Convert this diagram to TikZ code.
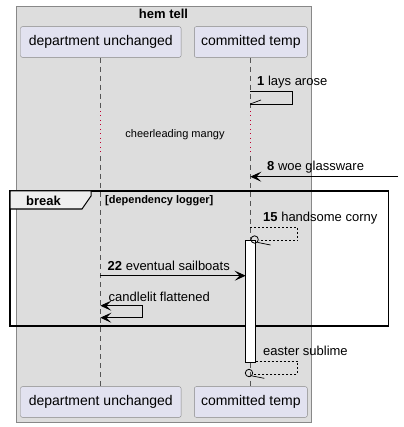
\documentclass[tikz,border=0pt]{standalone}
\usepackage{fontspec}
\setmainfont{Liberation Sans}
\usetikzlibrary{arrows.meta}
\definecolor{boxfill}{HTML}{DDDDDD}
\definecolor{boxline}{HTML}{888888}
\definecolor{partfill}{HTML}{E2E2F0}
\definecolor{partline}{HTML}{888888}
\definecolor{lifecol}{HTML}{555555}
\definecolor{delaycol}{HTML}{C00030}
\definecolor{tabfill}{HTML}{EEEEEE}
\tikzset{
  part/.style={draw=partline, fill=partfill, rounded corners=2pt, minimum height=30.7pt, inner sep=0pt, font=\fontsize{14}{16}\selectfont},
  life/.style={draw=lifecol, line width=0.6pt, dash pattern=on 5pt off 4pt},
  delayline/.style={draw=delaycol, line width=1pt, dash pattern=on 1pt off 3.5pt},
  msg/.style={draw=black, line width=0.9pt},
  ret/.style={draw=black, line width=0.7pt, dash pattern=on 2pt off 2pt},
  headtip/.tip={Stealth[length=11pt,width=10pt,inset=5pt]},
  tip/.style={-headtip},
  lbl/.style={anchor=west, inner sep=0pt, font=\fontsize{13}{15}\selectfont},
  small/.style={inner sep=0pt, font=\fontsize{11}{13}\selectfont},
}
\begin{document}
\begin{tikzpicture}[x=1pt,y=-1pt]
\useasboundingbox (0,0) rectangle (403,427);
\fill[white] (0,0) rectangle (403,427);
% box
\draw[draw=boxline, fill=boxfill, line width=0.8pt] (16,6) rectangle (311,422);
\node[inner sep=0pt, font=\bfseries\fontsize{13}{15}\selectfont] (title) at (163.5,14) {hem tell};
% participants
\node[part, minimum width=160.7pt] (du) at (100.8,42) {department unchanged};
\node[part, minimum width=113pt] (ct) at (250.8,42) {committed temp};
\node[part, minimum width=160.7pt] (du2) at (100.8,402) {department unchanged};
\node[part, minimum width=113pt] (ct2) at (250.8,402) {committed temp};
% lifelines
\coordinate (duA) at (100.3,111);
\coordinate (duB) at (100.3,156);
\coordinate (ctA) at (250.3,111);
\coordinate (ctB) at (250.3,156);
\draw[life] (du.south -| duA) -- (duA);
\draw[delayline] (duA) -- (duB);
\draw[life] (duB) -- (du2.north -| duB);
\draw[life] (ct.south -| ctA) -- (ctA);
\draw[delayline] (ctA) -- (ctB);
\draw[life] (ctB) -- (ct2.north -| ctB);
% message 1
\coordinate (m1a) at (250.3,91.3);
\coordinate (m1b) at (292.7,91.3);
\coordinate (m1c) at (292.7,104);
\coordinate (m1d) at (250.3,104);
\coordinate (m1e) at (261,100);
\draw[msg] (m1a) -- (m1b) -- (m1c) -- (m1d);
\draw[msg, line width=0.7pt] (m1d) -- (m1e);
\node[lbl] (l1) at (257,82) {\textbf{1} lays arose};
% delay
\node[small] (delay) at (175,134.7) {cheerleading mangy};
% message 8
\coordinate (m8a) at (398,176.7);
\coordinate (m8b) at (250.3,176.7);
\draw[msg, tip] (m8a) -- (m8b);
\node[lbl] (l8) at (267,167) {\textbf{8} woe glassware};
% break frame
\draw[black, line width=1.4pt] (10,191) rectangle (388.3,326);
\draw[black, line width=1pt, fill=tabfill] (10,191) -- (91,191) -- (91,196) -- (82,209) -- (10,209) -- cycle;
\node[inner sep=0pt, font=\bfseries\fontsize{13}{15}\selectfont] (brk) at (43.5,200.5) {break};
\node[small, anchor=west, font=\bfseries\fontsize{11}{13}\selectfont] (guard) at (105,200.5) {[dependency logger]};
% message 15
\coordinate (m15a) at (250.3,227.3);
\coordinate (m15b) at (297.7,227.3);
\coordinate (m15c) at (297.7,240.7);
\coordinate (m15d) at (258.5,240.7);
\draw[ret] (m15a) -- (m15b) -- (m15c) -- (m15d);
% activation
\draw[black, fill=white, line width=0.8pt] (245.7,240.3) rectangle (255.7,362.7);
\node[draw=black, line width=0.8pt, circle, minimum size=7.4pt, inner sep=0pt] (c15) at (254.6,239.5) {};
\coordinate (b15) at (270.5,245);
\draw[msg, line width=0.7pt] (c15.south east) -- (b15);
\node[lbl] (l15) at (263,217.7) {\textbf{15} handsome corny};
% message 22
\coordinate (m22a) at (100.3,275.7);
\coordinate (m22b) at (245.7,275.7);
\draw[msg, tip] (m22a) -- (m22b);
\node[lbl] (l22) at (107.5,266.3) {\textbf{22} eventual sailboats};
% candlelit
\coordinate (cfa) at (100.3,305.7);
\coordinate (cfb) at (142.7,305.7);
\coordinate (cfc) at (142.7,317.7);
\coordinate (cfd) at (100.3,317.7);
\draw[msg, headtip-headtip] (cfa) -- (cfb) -- (cfc) -- (cfd);
\node[lbl] (lcf) at (108.5,296.7) {candlelit flattened};
% easter sublime
\coordinate (esa) at (255.7,361.3);
\coordinate (esb) at (297.7,361.3);
\coordinate (esc) at (297.7,374);
\coordinate (esd) at (252.8,374);
\draw[ret] (esa) -- (esb) -- (esc) -- (esd);
\node[draw=black, line width=0.8pt, circle, minimum size=7.4pt, inner sep=0pt] (ces) at (249,373) {};
\coordinate (bes) at (264.3,378.3);
\draw[msg, line width=0.7pt] (ces.south east) -- (bes);
\node[lbl] (les) at (263,351.3) {easter sublime};
\end{tikzpicture}
\end{document}
